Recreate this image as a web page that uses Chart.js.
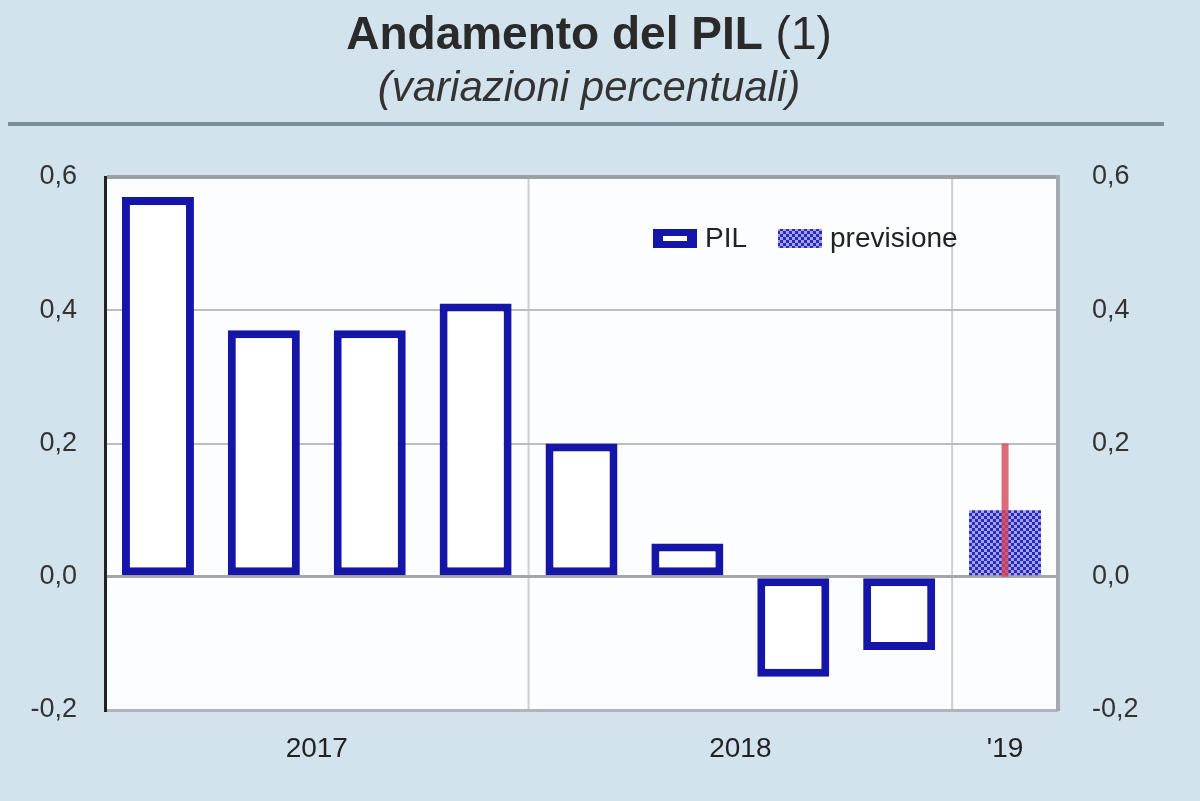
<!DOCTYPE html>
<html><head><meta charset="utf-8">
<script src="https://cdn.jsdelivr.net/npm/chart.js@4.4.1/dist/chart.umd.min.js"></script>
<style>
html,body{margin:0;padding:0;background:#d3e3ee;}
#wrap{position:relative;width:1200px;height:801px;}
canvas{display:block;}
</style></head>
<body>
<div id="wrap"><canvas id="c" width="1200" height="801"></canvas></div>
<script>
// ---- data ----
const categories = ['I 2017','II 2017','III 2017','IV 2017','I 2018','II 2018','III 2018','IV 2018','I 2019'];
const pilValues = [0.57, 0.37, 0.37, 0.41, 0.20, 0.05, -0.15, -0.11, null];
const forecastValues = [null, null, null, null, null, null, null, null, 0.10];
const forecastLow = [null, null, null, null, null, null, null, null, 0.0];
const forecastHigh = [null, null, null, null, null, null, null, null, 0.20];
const yearLabels = ['2017', '2018', "'19"];
const yearStart = [0, 4, 8];
const yearEnd = [3, 7, 8];
const yTicks = [-0.2, 0.0, 0.2, 0.4, 0.6];
const titleText = 'Andamento del PIL';
const titleNote = '(1)';
const subtitleText = '(variazioni percentuali)';
const legendLabels = ['PIL', 'previsione'];

const BLUE = '#1515a8';
const FONT = '"Liberation Sans", Arial, sans-serif';

// hatched pattern for forecast
function makePattern() {
  const p = document.createElement('canvas');
  p.width = 6; p.height = 6;
  const g = p.getContext('2d');
  g.fillStyle = '#a2a2ea'; g.fillRect(0,0,6,6);
  g.fillStyle = '#2a2abc';
  g.fillRect(0,0,3,3); g.fillRect(3,3,3,3);
  return document.getElementById('c').getContext('2d').createPattern(p, 'repeat');
}
const pattern = makePattern();

const fmt = v => (Math.round(v*10)/10).toFixed(1).replace('.', ',');

const decoPlugin = {
  id: 'deco',
  beforeDraw(chart) {
    const {ctx, chartArea: a} = chart;
    ctx.save();
    ctx.fillStyle = '#d3e3ee';
    ctx.fillRect(0, 0, chart.width, chart.height);
    ctx.fillStyle = '#fcfdfe';
    ctx.fillRect(a.left, a.top, a.right - a.left, a.bottom - a.top);
    // title
    ctx.fillStyle = '#2a2a2a';
    ctx.textBaseline = 'alphabetic';
    ctx.font = 'bold 46px ' + FONT;
    const w1 = ctx.measureText(titleText + ' ').width;
    ctx.font = '46px ' + FONT;
    const w2 = ctx.measureText(titleNote).width;
    const cx = 589;
    let x0 = cx - (w1 + w2) / 2;
    ctx.font = 'bold 46px ' + FONT;
    ctx.textAlign = 'left';
    ctx.fillText(titleText + ' ', x0, 49);
    ctx.font = '46px ' + FONT;
    ctx.fillText(titleNote, x0 + w1, 49);
    ctx.fillStyle = '#333';
    ctx.font = 'italic 42px ' + FONT;
    ctx.textAlign = 'center';
    ctx.fillText(subtitleText, cx, 101);
    // separator
    ctx.strokeStyle = '#7a8e9b';
    ctx.lineWidth = 4;
    ctx.beginPath(); ctx.moveTo(8, 124); ctx.lineTo(1164, 124); ctx.stroke();
    // year boundary lines
    const xs = chart.scales.x;
    ctx.strokeStyle = '#cfcfcf';
    ctx.lineWidth = 2;
    for (let i = 1; i < yearStart.length; i++) {
      const px = (xs.getPixelForValue(yearStart[i] - 1) + xs.getPixelForValue(yearStart[i])) / 2;
      ctx.beginPath(); ctx.moveTo(px, a.top); ctx.lineTo(px, a.bottom); ctx.stroke();
    }
    ctx.restore();
  },
  afterDatasetsDraw(chart) {
    const {ctx} = chart;
    const xs = chart.scales.x, ys = chart.scales.y;
    ctx.save();
    // error bars
    for (let i = 0; i < forecastHigh.length; i++) {
      if (forecastHigh[i] == null) continue;
      const px = xs.getPixelForValue(i);
      const y1 = ys.getPixelForValue(forecastLow[i]);
      const y2 = ys.getPixelForValue(forecastHigh[i]);
      ctx.strokeStyle = 'rgba(214,70,90,0.8)';
      ctx.lineWidth = 7;
      ctx.beginPath(); ctx.moveTo(px, y1); ctx.lineTo(px, y2); ctx.stroke();
    }
    // year labels
    ctx.fillStyle = '#222';
    ctx.font = '28px ' + FONT;
    ctx.textAlign = 'center';
    ctx.textBaseline = 'middle';
    for (let i = 0; i < yearLabels.length; i++) {
      const px = (xs.getPixelForValue(yearStart[i]) + xs.getPixelForValue(yearEnd[i])) / 2;
      ctx.fillText(yearLabels[i], px, 749);
    }
    // legend
    ctx.textAlign = 'left';
    ctx.font = '28px ' + FONT;
    ctx.fillStyle = BLUE;
    ctx.fillRect(653, 229, 44, 19);
    ctx.fillStyle = '#ffffff';
    ctx.fillRect(663, 236, 24, 5);
    ctx.fillStyle = '#222';
    ctx.fillText(legendLabels[0], 705, 239);
    ctx.fillStyle = pattern;
    ctx.fillRect(778, 229, 44, 19);
    ctx.fillStyle = '#222';
    ctx.fillText(legendLabels[1], 830, 239);
    ctx.restore();
  }
};

new Chart(document.getElementById('c'), {
  type: 'bar',
  data: {
    labels: categories,
    datasets: [
      {
        label: legendLabels[0],
        data: pilValues,
        backgroundColor: '#ffffff',
        borderColor: BLUE,
        borderWidth: 8,
        borderSkipped: false,
        barPercentage: 0.68,
        categoryPercentage: 1.0
      },
      {
        label: legendLabels[1],
        data: forecastValues,
        backgroundColor: pattern,
        borderWidth: 0,
        barPercentage: 0.68,
        categoryPercentage: 1.0
      }
    ]
  },
  options: {
    responsive: false,
    animation: false,
    devicePixelRatio: 1,
    grouped: false,
    layout: { padding: { top: 177, left: 0, right: 0, bottom: 0 } },
    plugins: { legend: { display: false }, tooltip: { enabled: false } },
    scales: {
      x: {
        grid: { display: false },
        border: { display: false },
        ticks: { display: false },
        afterFit: s => { s.height = 91; }
      },
      y: {
        position: 'left',
        min: -0.2, max: 0.6,
        afterBuildTicks: s => { s.ticks = yTicks.map(v => ({ value: v })); },
        ticks: { callback: v => fmt(v), color: '#333', font: { family: FONT, size: 27 }, padding: 28 },
        grid: {
          drawTicks: false,
          color: c => {
            const v = c.tick ? c.tick.value : null;
            if (v === 0.6) return '#9a9fa4';
            if (v === -0.2) return '#b0b4b8';
            if (v === 0) return '#a6a6a6';
            return '#bcbcbc';
          },
          lineWidth: c => {
            const v = c.tick ? c.tick.value : null;
            if (v === 0.6) return 4;
            if (v === 0 || v === -0.2) return 3;
            return 2;
          }
        },
        border: { color: '#222', width: 3 },
        afterFit: s => { s.width = 105; }
      },
      y2: {
        position: 'right',
        min: -0.2, max: 0.6,
        afterBuildTicks: s => { s.ticks = yTicks.map(v => ({ value: v })); },
        ticks: { callback: v => fmt(v), color: '#333', font: { family: FONT, size: 27 }, padding: 34 },
        grid: { display: false, drawTicks: false },
        border: { color: '#a3abb2', width: 4 },
        afterFit: s => { s.width = 142; }
      }
    }
  },
  plugins: [decoPlugin]
});
</script>
</body></html>
